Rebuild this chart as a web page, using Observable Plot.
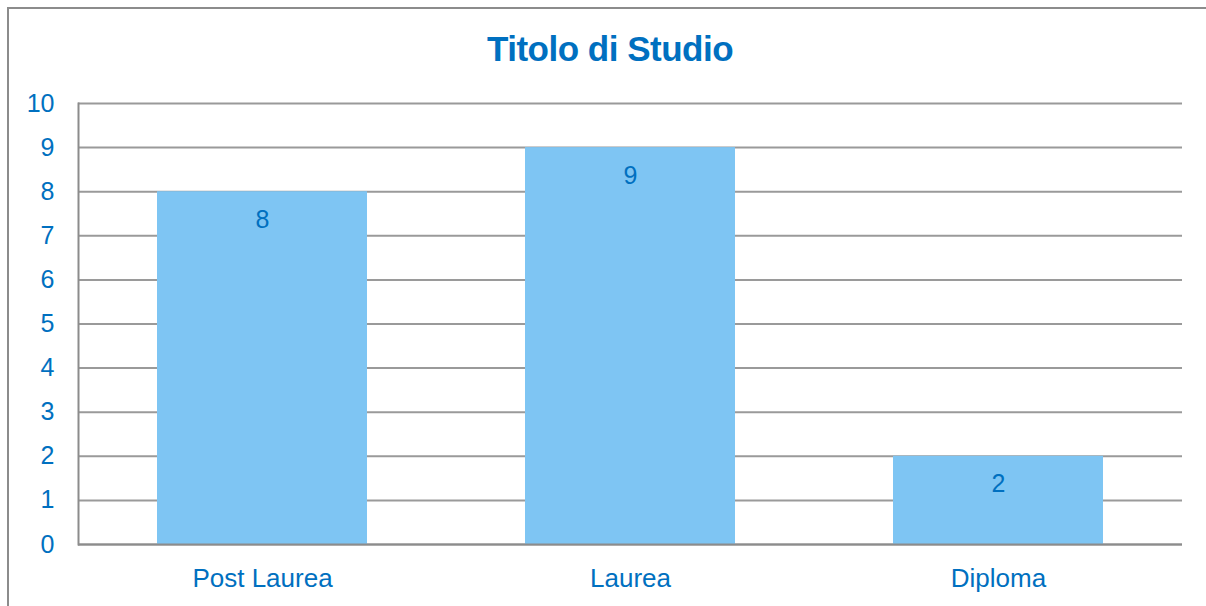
<!DOCTYPE html>
<html>
<head>
<meta charset="utf-8">
<script src="https://cdn.jsdelivr.net/npm/d3@7"></script>
<script src="https://cdn.jsdelivr.net/npm/@observablehq/plot@0.6"></script>
<style>
  html, body { margin: 0; padding: 0; background: #fff; }
  #wrap { position: relative; width: 1206px; height: 606px; overflow: hidden; font-family: "Liberation Sans", Arial, sans-serif; }
  #border { position: absolute; left: 7px; top: 7px; width: 1300px; height: 700px; border-top: 2px solid #8c8c8c; border-left: 2px solid #8c8c8c; box-sizing: border-box; }
  #title { position: absolute; left: 0; top: 29px; width: 1220px; text-align: center; color: #0070C0; font-size: 35px; font-weight: bold; letter-spacing: -0.5px; }
  #chart { position: absolute; left: 0; top: 0; }
</style>
</head>
<body>
<div id="wrap">
  <div id="border"></div>
  <div id="title">Titolo di Studio</div>
  <div id="chart"></div>
</div>
<script>
const categories = ["Post Laurea", "Laurea", "Diploma"];
const values = [8, 9, 2];
const yTicks = [0, 1, 2, 3, 4, 5, 6, 7, 8, 9, 10];

const data = categories.map((c, i) => ({category: c, value: values[i]}));
const blue = "#0070C0";

const plot = Plot.plot({
  width: 1206,
  height: 606,
  marginLeft: 78,
  marginRight: 24,
  marginTop: 103,
  marginBottom: 62,
  style: {fontFamily: "'Liberation Sans', Arial, sans-serif", fontSize: "26px", background: "transparent", overflow: "visible"},
  x: {domain: categories, paddingInner: 0.43, paddingOuter: 0.215, label: null},
  y: {domain: [0, 10], label: null},
  marks: [
    Plot.ruleY(yTicks, {stroke: "#9a9a9a", strokeWidth: 2}),
    Plot.barY(data, {x: "category", y: "value", fill: "#7EC5F3"}),
    Plot.ruleY([0], {stroke: "#8c8c8c", strokeWidth: 2}),
    Plot.frame({anchor: "left", stroke: "#8c8c8c", strokeWidth: 2}),
    Plot.text(data, {x: "category", y: "value", text: d => String(d.value), dy: 28, fill: blue, fontSize: 25}),
    Plot.axisY({ticks: yTicks, tickSize: 0, tickPadding: 24, color: blue, fontSize: 25, tickFormat: d => String(d)}),
    Plot.axisX({tickSize: 0, tickPadding: 24, color: blue, fontSize: 26})
  ]
});
document.getElementById("chart").appendChild(plot);
</script>
</body>
</html>
